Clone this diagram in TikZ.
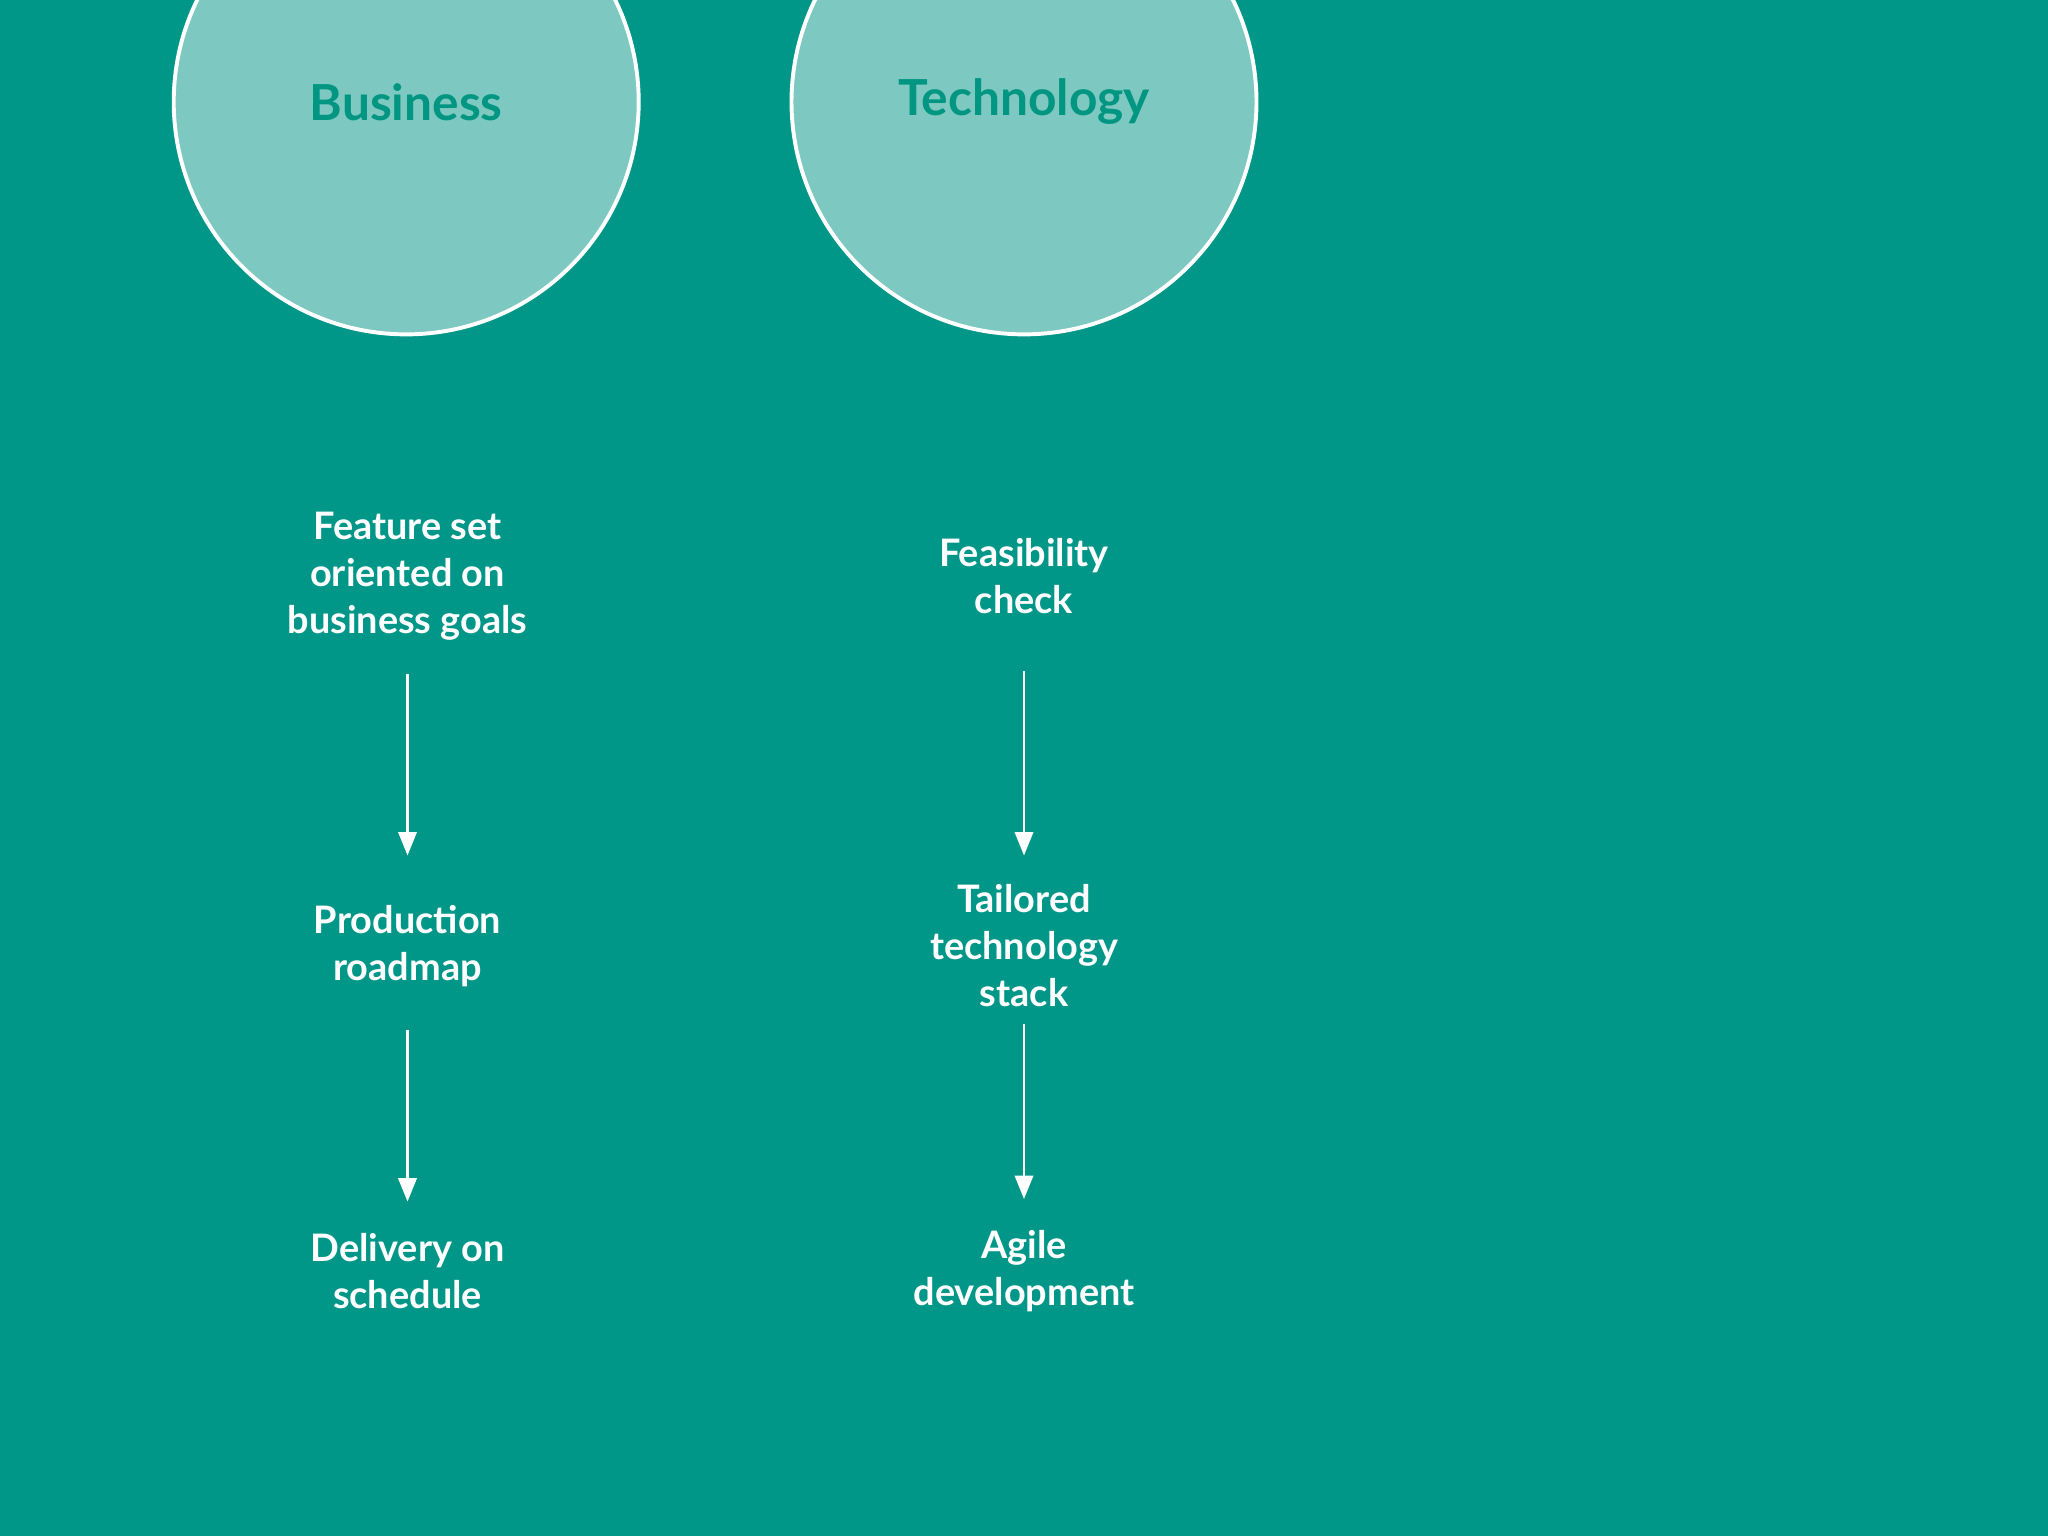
\documentclass[tikz,border=0pt]{standalone}
\usepackage{fontspec}
\setmainfont{Lato}
\usetikzlibrary{arrows.meta}
\definecolor{bg}{RGB}{0,150,136}
\definecolor{circ}{RGB}{125,200,192}
\definecolor{ttl}{RGB}{0,150,130}
\begin{document}
\begin{tikzpicture}[x=1pt,y=-1pt,
  lbl/.style={text=white,align=center,inner sep=0pt,font=\fontsize{29}{36}\selectfont\bfseries},
  bubble/.style={circle,draw=white,line width=3pt,fill=circ,minimum size=356pt},
  ttlstyle/.style={text=ttl,font=\fontsize{38}{44}\selectfont\bfseries},
  arr/.style={white,line width=2.2pt,-{Triangle[width=14pt,length=18pt]}}]
\fill[bg] (0,0) rectangle (1568,1176);
\useasboundingbox (0,0) rectangle (1568,1176);
\begin{scope}
\clip (0,0) rectangle (1568,1176);
\node[bubble] (cb) at (311,78) {};
\node[bubble] (ct) at (784,78) {};
\end{scope}
\node[ttlstyle] (tb) at (311,78) {Business};
\node[ttlstyle] (tt) at (784,78) {Technology};
\node[lbl] (a1) at (312,441) {Feature set\\oriented on\\business goals};
\node[lbl] (a2) at (312,724) {Production\\roadmap};
\node[lbl] (a3) at (312,973) {Delivery on\\schedule};
\node[lbl] (b1) at (784,441) {Feasibility\\check};
\node[lbl] (b2) at (784,724) {Tailored\\technology\\stack};
\node[lbl] (b3) at (784,973) {Agile\\development};
\draw[arr] (a1.south) ++(0,26) coordinate (s1) -- (312,655) coordinate (e1);
\draw[arr] (a2.south) ++(0,33) coordinate (s2) -- (312,920) coordinate (e2);
\draw[arr] (b1.south) ++(0,44) coordinate (s3) -- (784,655) coordinate (e3);
\draw[arr] (b2.south) ++(0,13) coordinate (s4) -- (784,918) coordinate (e4);
\end{tikzpicture}
\end{document}
